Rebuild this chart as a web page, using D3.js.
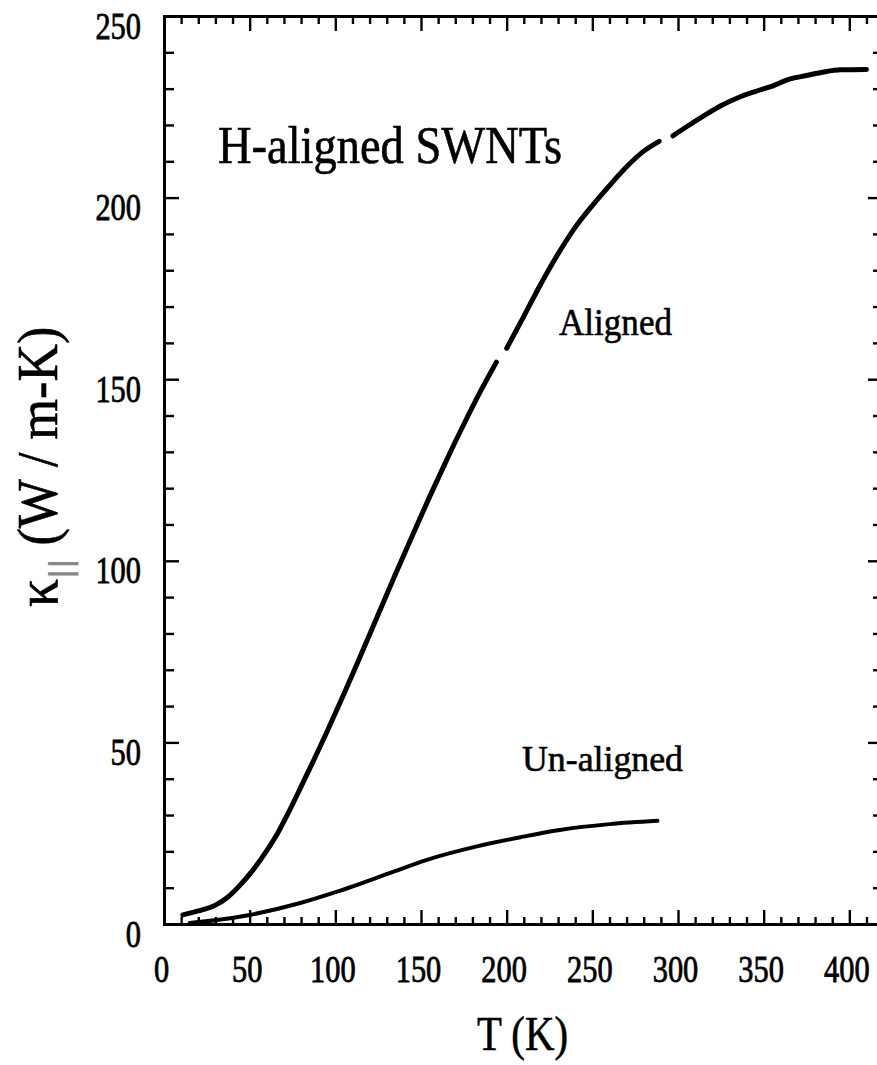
<!DOCTYPE html>
<html><head><meta charset="utf-8">
<script src="https://cdn.jsdelivr.net/npm/d3@7"></script>
<style>html,body{margin:0;padding:0;background:#fff;} svg{display:block;}</style>
</head><body><svg id="chart" width="877" height="1065"></svg>
<script>
// ---- data ----
const alignedT = [11, 20, 30, 37, 44, 52, 59, 66, 73, 80, 88, 95, 105, 115, 125, 135, 145, 155, 165, 175, 185, 194, null, 200, 210, 220, 230, 240, 250, 260, 270, 280, 289, null, 297, 305, 315, 325, 335, 345, 355, 365, 375, 385, 395, 410];
const alignedK = [2.5, 3.6, 5.2, 7.3, 10.5, 14.9, 19.5, 24.7, 31.0, 37.8, 45.7, 52.8, 63.3, 74.2, 85.2, 96.2, 107.0, 117.6, 127.8, 137.6, 146.9, 154.7, null, 158.5, 167.3, 176.3, 184.5, 191.8, 197.8, 203.3, 208.5, 212.8, 215.5, null, 217, 219.5, 222.5, 225.3, 227.5, 229.2, 230.7, 232.6, 233.6, 234.6, 235.2, 235.3];
const unalignedT = [15, 31, 50, 79, 101, 134, 153, 182, 208, 231, 260, 288];
const unalignedK = [0.3, 1.1, 2.5, 5.7, 8.9, 14.4, 17.6, 21.3, 23.9, 25.9, 27.5, 28.4];
const xTickLabels = [0, 50, 100, 150, 200, 250, 300, 350, 400];
const yTickLabels = [0, 50, 100, 150, 200, 250];
const titleText = "H-aligned SWNTs";
const seriesNames = ["Aligned", "Un-aligned"];
const xAxisTitle = "T (K)";
const yAxisSymbol = "κ", yAxisSub = "||", yAxisUnit = " (W / m-K)";

const FONT = "'Liberation Serif','Times New Roman',serif";
const svg = d3.select("#chart");
svg.append("rect").attr("width", 877).attr("height", 1065).attr("fill", "#fff");

const x = d3.scaleLinear().domain([0, 417.9]).range([164, 880]);
const y = d3.scaleLinear().domain([0, 250]).range([924, 16]);

const xMinor = d3.range(10, 420, 10).filter(v => v % 50 !== 0);
const yMinor = d3.range(10, 250, 10).filter(v => v % 50 !== 0);

function styleAxis(g, labels) {
  g.attr("font-family", FONT).attr("font-size", 37);
  g.select(".domain").attr("stroke", "#000").attr("stroke-width", 3).attr("stroke-linecap", "square");
  g.selectAll(".tick line").attr("stroke", "#000").attr("stroke-width", 2.4);
  if (!labels) g.selectAll(".tick text").remove();
}

// bottom
const gb = svg.append("g").attr("transform", "translate(0,924)")
  .call(d3.axisBottom(x).tickValues(xTickLabels).tickSize(-14).tickSizeOuter(0).tickFormat(d3.format("d")));
styleAxis(gb, true);
gb.selectAll(".tick text").attr("y", 58).attr("dy", null).attr("x", -3).attr("fill", "#000")
  .attr("stroke", "#000").attr("stroke-width", 0.8)
  .attr("textLength", d => String(d).length * 15.2).attr("lengthAdjust", "spacingAndGlyphs");
const gbm = svg.append("g").attr("transform", "translate(0,924)")
  .call(d3.axisBottom(x).tickValues(xMinor).tickSize(-7).tickSizeOuter(0));
styleAxis(gbm, false);

// top
const gt = svg.append("g").attr("transform", "translate(0,16)")
  .call(d3.axisTop(x).tickValues(xTickLabels).tickSize(-15).tickSizeOuter(0));
styleAxis(gt, false);
const gtm = svg.append("g").attr("transform", "translate(0,16)")
  .call(d3.axisTop(x).tickValues(xMinor).tickSize(-8).tickSizeOuter(0));
styleAxis(gtm, false);

// left
const gl = svg.append("g").attr("transform", "translate(164,0)")
  .call(d3.axisLeft(y).tickValues(yTickLabels).tickSize(-15).tickSizeOuter(0).tickFormat(d3.format("d")));
styleAxis(gl, true);
gl.selectAll(".tick text").attr("x", -23).attr("dy", null).attr("y", 22).attr("fill", "#000")
  .attr("stroke", "#000").attr("stroke-width", 0.8)
  .attr("textLength", d => String(d).length * 15.2).attr("lengthAdjust", "spacingAndGlyphs");
const glm = svg.append("g").attr("transform", "translate(164,0)")
  .call(d3.axisLeft(y).tickValues(yMinor).tickSize(-10).tickSizeOuter(0));
styleAxis(glm, false);

// right
const gr = svg.append("g").attr("transform", "translate(880,0)")
  .call(d3.axisRight(y).tickValues(yTickLabels).tickSize(-12).tickSizeOuter(0));
styleAxis(gr, false);
const grm = svg.append("g").attr("transform", "translate(880,0)")
  .call(d3.axisRight(y).tickValues(yMinor).tickSize(-7).tickSizeOuter(0));
styleAxis(grm, false);

// curves
const line = d3.line()
  .defined(d => d.k !== null && d.t !== null)
  .x(d => x(d.t)).y(d => y(d.k))
  .curve(d3.curveMonotoneX);
const aligned = alignedT.map((t, i) => ({ t: t, k: alignedK[i] }));
const unaligned = unalignedT.map((t, i) => ({ t: t, k: unalignedK[i] }));
svg.append("path").datum(aligned).attr("d", line).attr("fill", "none")
  .attr("stroke", "#000").attr("stroke-width", 5).attr("stroke-linecap", "round").attr("stroke-linejoin", "round");
svg.append("path").datum(unaligned).attr("d", line).attr("fill", "none")
  .attr("stroke", "#000").attr("stroke-width", 4).attr("stroke-linecap", "round").attr("stroke-linejoin", "round");

// texts
function txt(s, xx, yy, size, len) {
  return svg.append("text").text(s).attr("x", xx).attr("y", yy)
    .attr("font-family", FONT).attr("font-size", size).attr("fill", "#000")
    .attr("stroke", "#000").attr("stroke-width", 0.6)
    .attr("textLength", len).attr("lengthAdjust", "spacingAndGlyphs");
}
txt(titleText, 218, 163, 52, 344);
txt(seriesNames[0], 559, 335, 38, 113);
txt(seriesNames[1], 522, 771, 36, 161);
txt(xAxisTitle, 477, 1050, 48, 91);

const yt = svg.append("text")
  .attr("transform", "translate(57,607) rotate(-90) scale(0.93,1)")
  .attr("font-family", FONT).attr("font-size", 56).attr("fill", "#000")
  .attr("stroke", "#000").attr("stroke-width", 0.6);
yt.append("tspan").text(yAxisSymbol).attr("font-size", 60);
yt.append("tspan").text(yAxisSub).attr("font-family", "'DejaVu Sans',sans-serif")
  .attr("font-size", 30).attr("font-weight", "bold").attr("fill", "#888").attr("stroke", "none")
  .attr("dy", 14).attr("dx", 0);
yt.append("tspan").text(yAxisUnit).attr("dy", -14);
</script>
</body></html>
